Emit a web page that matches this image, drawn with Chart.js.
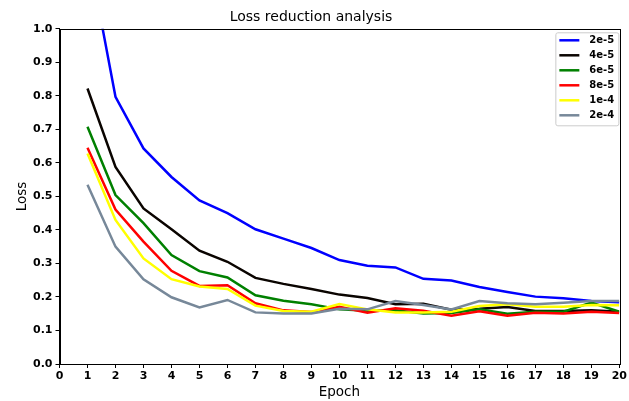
<!DOCTYPE html>
<html>
<head>
<meta charset="utf-8">
<script src="https://cdn.jsdelivr.net/npm/chart.js@4"></script>
<style>
  html, body { margin: 0; padding: 0; background: #fff; }
  #wrap { width: 629px; height: 401px; position: relative; }
</style>
</head>
<body>
<div id="wrap"><canvas id="c" width="629" height="401"></canvas></div>
<script>
const epochs = [1,2,3,4,5,6,7,8,9,10,11,12,13,14,15,16,17,18,19,20];
const seriesLabels = ["2e-5", "4e-5", "6e-5", "8e-5", "1e-4", "2e-4"];
const lr2e5 = [1.24, 0.797, 0.643, 0.558, 0.488, 0.450, 0.402, 0.374, 0.346, 0.310, 0.293, 0.288, 0.254, 0.249, 0.230, 0.215, 0.201, 0.196, 0.188, 0.184];
const lr4e5 = [0.822, 0.588, 0.464, 0.402, 0.338, 0.305, 0.257, 0.239, 0.224, 0.207, 0.197, 0.178, 0.180, 0.162, 0.165, 0.170, 0.158, 0.158, 0.160, 0.156];
const lr6e5 = [0.708, 0.504, 0.420, 0.325, 0.277, 0.258, 0.205, 0.189, 0.178, 0.163, 0.159, 0.160, 0.151, 0.152, 0.163, 0.150, 0.156, 0.156, 0.183, 0.156];
const lr8e5 = [0.645, 0.461, 0.365, 0.278, 0.233, 0.235, 0.181, 0.160, 0.155, 0.171, 0.153, 0.166, 0.159, 0.144, 0.157, 0.144, 0.153, 0.151, 0.156, 0.152];
const lr1e4 = [0.628, 0.430, 0.315, 0.253, 0.231, 0.224, 0.174, 0.158, 0.156, 0.179, 0.163, 0.154, 0.154, 0.156, 0.173, 0.178, 0.171, 0.171, 0.176, 0.175];
const lr2e4 = [0.535, 0.350, 0.253, 0.199, 0.169, 0.191, 0.154, 0.151, 0.151, 0.165, 0.163, 0.188, 0.176, 0.163, 0.188, 0.181, 0.178, 0.183, 0.188, 0.188];
const xTicks = [0,1,2,3,4,5,6,7,8,9,10,11,12,13,14,15,16,17,18,19,20];
const yTicks = [0.0,0.1,0.2,0.3,0.4,0.5,0.6,0.7,0.8,0.9,1.0];

const allSeries = [lr2e5, lr4e5, lr6e5, lr8e5, lr1e4, lr2e4];
const colors = ["#0000ff", "#0a0400", "#008000", "#ff0000", "#ffff00", "#778899"];

const FONT = "'DejaVu Sans', sans-serif";

const datasets = allSeries.map((vals, i) => ({
  label: seriesLabels[i],
  data: epochs.map((e, j) => ({x: e, y: vals[j]})),
  borderColor: colors[i],
  backgroundColor: colors[i],
  borderWidth: 2.5,
  pointRadius: 0,
  tension: 0,
  fill: false,
  order: allSeries.length - i
}));

const framePlugin = {
  id: 'frame',
  afterDraw(chart) {
    const {ctx, chartArea: a} = chart;
    ctx.save();
    ctx.strokeStyle = '#000';
    ctx.lineWidth = 1;
    ctx.strokeRect(Math.round(a.left) + 0.5, Math.round(a.top) + 0.5, Math.round(a.right - a.left), Math.round(a.bottom - a.top));
    ctx.restore();

    // legend box (upper right)
    const ds = chart.data.datasets;
    const boxR = a.right - 1, boxT = a.top + 3.5;
    const boxW = 63, rowH = 15;
    const boxH = ds.length * rowH + 3;
    const boxL = boxR - boxW;
    ctx.save();
    ctx.fillStyle = 'rgba(255,255,255,0.8)';
    ctx.strokeStyle = '#cccccc';
    ctx.lineWidth = 1;
    ctx.beginPath();
    if (ctx.roundRect) ctx.roundRect(boxL + 0.5, boxT + 0.5, boxW, boxH, 2);
    else ctx.rect(boxL + 0.5, boxT + 0.5, boxW, boxH);
    ctx.fill();
    ctx.stroke();
    ctx.font = 'bold 10px ' + FONT;
    ctx.textBaseline = 'middle';
    ctx.textAlign = 'left';
    ds.forEach((d, i) => {
      const y = boxT + 8 + i * rowH;
      ctx.strokeStyle = d.borderColor;
      ctx.lineWidth = 2.5;
      ctx.beginPath();
      ctx.moveTo(boxL + 4, y);
      ctx.lineTo(boxL + 24, y);
      ctx.stroke();
      ctx.fillStyle = '#000';
      ctx.fillText(d.label, boxL + 34, y);
    });
    ctx.restore();
  }
};

new Chart(document.getElementById('c'), {
  type: 'line',
  data: { datasets },
  options: {
    responsive: false,
    animation: false,
    layout: { padding: { left: 0, right: 7, top: 0, bottom: 0 } },
    plugins: {
      legend: { display: false },
      tooltip: { enabled: false },
      title: {
        display: true,
        text: 'Loss reduction analysis',
        color: '#000',
        font: { family: FONT, size: 14, weight: 'normal' },
        padding: { top: 9, bottom: 3 }
      }
    },
    scales: {
      x: {
        type: 'linear',
        min: 0, max: 20,
        afterBuildTicks: (s) => { s.ticks = xTicks.map(v => ({value: v})); },
        afterFit: (s) => { s.height = 37; },
        ticks: {
          color: '#000', autoSkip: false, maxRotation: 0, padding: 2,
          font: { family: FONT, size: 11, weight: 'bold' }
        },
        grid: { display: true, drawOnChartArea: false, drawTicks: true, tickLength: 4, color: '#000' },
        border: { display: true, color: '#000' },
        title: {
          display: true, text: 'Epoch', color: '#000',
          font: { family: FONT, size: 13.5 },
          padding: { top: 0, bottom: 0 }
        }
      },
      y: {
        type: 'linear',
        min: 0, max: 1,
        afterBuildTicks: (s) => { s.ticks = yTicks.map(v => ({value: v})); },
        afterFit: (s) => { s.width = 59.5; },
        ticks: {
          color: '#000', padding: 3,
          font: { family: FONT, size: 11, weight: 'bold' },
          callback: (v) => Number(v).toFixed(1)
        },
        grid: { display: true, drawOnChartArea: false, drawTicks: true, tickLength: 4, color: '#000' },
        border: { display: true, color: '#000' },
        title: {
          display: true, text: 'Loss', color: '#000',
          font: { family: FONT, size: 13.5 },
          padding: { top: 14, bottom: 0 }
        }
      }
    }
  },
  plugins: [framePlugin]
});
</script>
</body>
</html>
